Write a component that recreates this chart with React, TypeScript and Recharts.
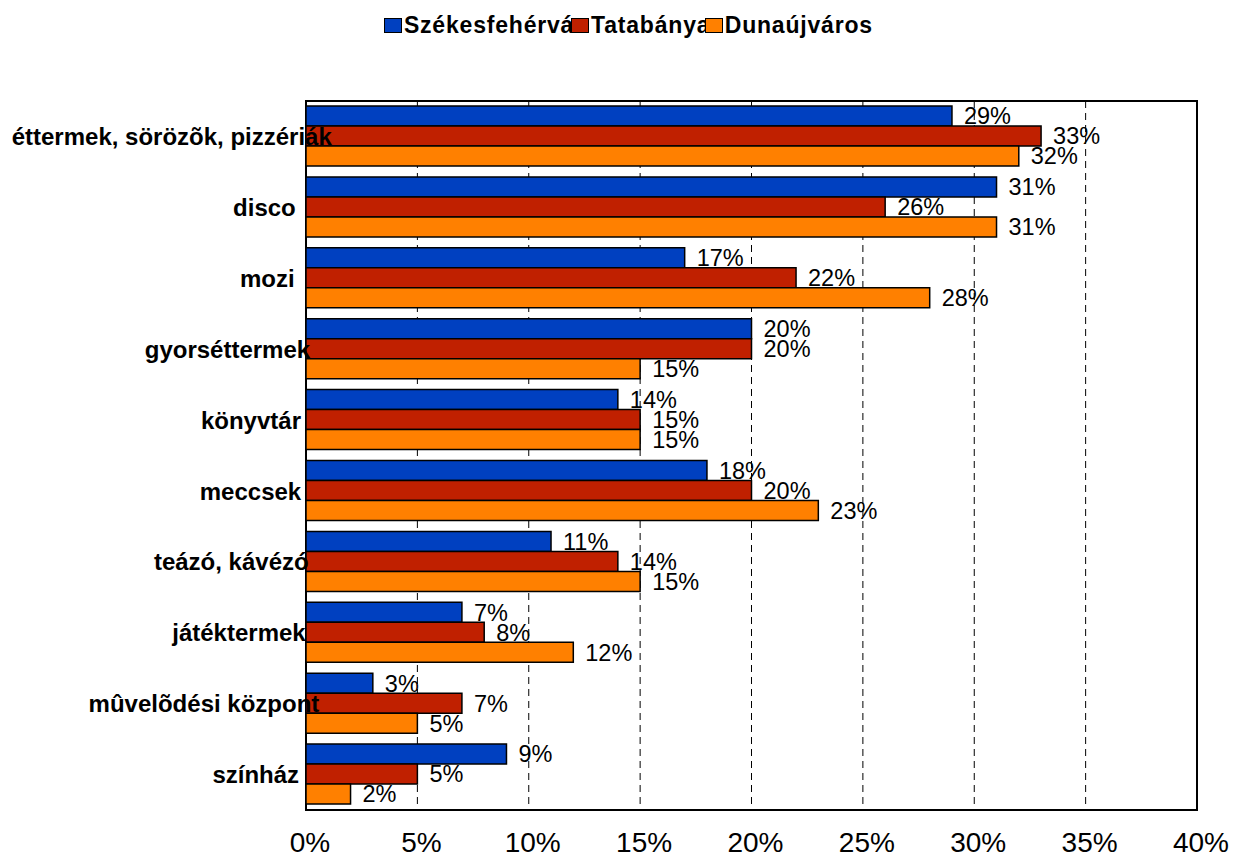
import React from "react";
import {
  BarChart,
  Bar,
  XAxis,
  YAxis,
  CartesianGrid,
  LabelList,
  ReferenceArea,
} from "recharts";

const categories = [
  "éttermek, sörözõk, pizzériák",
  "disco",
  "mozi",
  "gyorséttermek",
  "könyvtár",
  "meccsek",
  "teázó, kávézó",
  "játéktermek",
  "mûvelõdési központ",
  "színház",
];
const szekesfehervar = [29, 31, 17, 20, 14, 18, 11, 7, 3, 9];
const tatabanya = [33, 26, 22, 20, 15, 20, 14, 8, 7, 5];
const dunaujvaros = [32, 31, 28, 15, 15, 23, 15, 12, 5, 2];
const xTicks = [0, 5, 10, 15, 20, 25, 30, 35, 40];

const series = [
  { key: "s", name: "Székesfehérvár", color: "#0040C0" },
  { key: "t", name: "Tatabánya", color: "#C02000" },
  { key: "d", name: "Dunaújváros", color: "#FF8000" },
];

const data = categories.map((name, i) => ({
  name,
  s: szekesfehervar[i],
  t: tatabanya[i],
  d: dunaujvaros[i],
}));

const FONT = "'Liberation Sans', Arial, sans-serif";

let canvas: HTMLCanvasElement | null = null;
function textWidth(text: string, font: string) {
  if (!canvas) canvas = document.createElement("canvas");
  const ctx = canvas.getContext("2d");
  if (!ctx) return text.length * 10;
  ctx.font = font;
  return ctx.measureText(text).width;
}

// labels are laid out narrower than they are drawn, so long ones spill into the plot
function CategoryTick(props: any) {
  const { x, y, payload } = props;
  const label = String(payload.value);
  const w = textWidth(label, `bold 24px ${FONT}`);
  const left = x - 19 - 0.86 * w;
  return (
    <text
      x={left}
      y={y}
      dy="0.36em"
      textAnchor="start"
      fontSize={24}
      fontWeight="bold"
      fontFamily={FONT}
      fill="#000"
    >
      {label}
    </text>
  );
}

function ChartLegend() {
  return (
    <div
      style={{
        position: "absolute",
        top: 10,
        left: 7,
        width: 1234,
        height: 30,
        display: "flex",
        justifyContent: "center",
        alignItems: "center",
        fontFamily: FONT,
      }}
    >
      {series.map((s) => (
        <div
          key={s.key}
          style={{
            width: 28 + textWidth(s.name, `bold 21.7px ${FONT}`),
            flexShrink: 0,
            display: "flex",
            alignItems: "center",
            whiteSpace: "nowrap",
            overflow: "visible",
          }}
        >
          <span
            style={{
              display: "inline-block",
              flexShrink: 0,
              width: 18,
              height: 15,
              boxSizing: "border-box",
              border: "1.5px solid #000",
              background: s.color,
              marginRight: 2,
              position: "relative",
              zIndex: 1,
            }}
          />
          <span style={{ fontSize: 23, fontWeight: "bold", letterSpacing: 0.8, color: "#000" }}>
            {s.name}
          </span>
        </div>
      ))}
    </div>
  );
}

export default function App() {
  return (
    <div
      style={{
        position: "absolute",
        left: 0,
        top: 0,
        width: 1234,
        height: 856,
        background: "#fff",
      }}
    >
      <BarChart
        width={1234}
        height={856}
        data={data}
        layout="vertical"
        margin={{ top: 101, right: 37, left: 0, bottom: 0 }}
        barGap={0}
      >
        <CartesianGrid horizontal={false} stroke="#000" strokeDasharray="7 5" />
        <XAxis
          type="number"
          domain={[0, 40]}
          ticks={xTicks}
          tickFormatter={(v) => `${v}%`}
          axisLine={false}
          tickLine={false}
          tickSize={0}
          tickMargin={22}
          height={46}
          tick={{ fontSize: 28, fill: "#000", fontFamily: FONT, dx: 4 }}
        />
        <YAxis
          type="category"
          dataKey="name"
          width={306}
          axisLine={false}
          tickLine={false}
          tickSize={0}
          tickMargin={0}
          interval={0}
          tick={<CategoryTick />}
        />
        {series.map((s) => (
          <Bar
            key={s.key}
            dataKey={s.key}
            name={s.name}
            fill={s.color}
            stroke="#000"
            strokeWidth={1.5}
            barSize={20}
            isAnimationActive={false}
          >
            <LabelList
              dataKey={s.key}
              position="right"
              offset={12}
              formatter={(v: any) => `${v}%`}
              fill="#000"
              fontSize={23.5}
              fontFamily={FONT}
            />
          </Bar>
        ))}
        <ReferenceArea
          x1={0}
          x2={40}
          fill="none"
          stroke="#000"
          strokeWidth={2}
          ifOverflow="visible"
        />
      </BarChart>
      <ChartLegend />
    </div>
  );
}
